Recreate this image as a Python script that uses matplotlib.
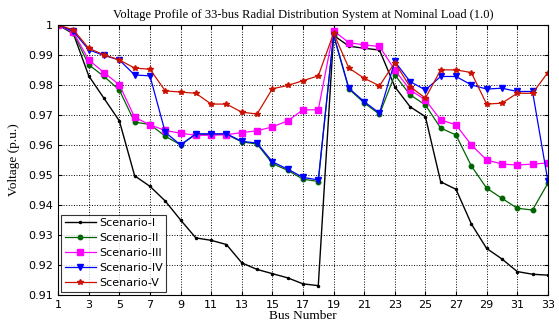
import matplotlib
matplotlib.use("Agg")
import matplotlib.pyplot as plt
import numpy as np

buses = list(range(1, 34))

scenario_1 = [1.0, 0.997, 0.983, 0.9755, 0.968, 0.9497, 0.9462, 0.9413, 0.935, 0.929,
              0.9282, 0.9268, 0.9207, 0.9185, 0.9171, 0.9157, 0.9137, 0.9131, 0.9965, 0.9929,
              0.9922, 0.9916, 0.9794, 0.9727, 0.9694, 0.9477, 0.9452, 0.9337, 0.9255, 0.9220,
              0.9178, 0.9169, 0.9166]
scenario_2 = [1.0, 0.9972, 0.9867, 0.9828, 0.9783, 0.9676, 0.9668, 0.9629, 0.9600, 0.9635,
              0.9635, 0.9635, 0.9610, 0.9603, 0.9538, 0.9515, 0.9486, 0.9478, 0.9965, 0.9786,
              0.9740, 0.9702, 0.9833, 0.9767, 0.9733, 0.9656, 0.9633, 0.9530, 0.9456, 0.9422,
              0.9389, 0.9383, 0.9472]
scenario_3 = [1.0, 0.9975, 0.9883, 0.9841, 0.9800, 0.9692, 0.9667, 0.9648, 0.9639, 0.9632,
              0.9632, 0.9634, 0.9641, 0.9647, 0.9660, 0.9680, 0.9717, 0.9717, 0.9980, 0.9941,
              0.9933, 0.9928, 0.9850, 0.9783, 0.9750, 0.9683, 0.9667, 0.9600, 0.9550, 0.9536,
              0.9533, 0.9536, 0.9540]
scenario_4 = [1.0, 0.9978, 0.9917, 0.9898, 0.9883, 0.9833, 0.9830, 0.9642, 0.9600, 0.9637,
              0.9637, 0.9637, 0.9612, 0.9606, 0.9544, 0.9519, 0.9492, 0.9483, 0.9967, 0.9789,
              0.9744, 0.9706, 0.9878, 0.9811, 0.9783, 0.9828, 0.9828, 0.9800, 0.9786, 0.9789,
              0.9778, 0.9778, 0.9481]
scenario_5 = [1.0, 0.9983, 0.9922, 0.9900, 0.9883, 0.9856, 0.9852, 0.9780, 0.9776, 0.9772,
              0.9736, 0.9736, 0.9709, 0.9703, 0.9787, 0.9798, 0.9814, 0.9830, 0.9972, 0.9856,
              0.9822, 0.9797, 0.9874, 0.9794, 0.9756, 0.9850, 0.9850, 0.9841, 0.9736, 0.9739,
              0.9772, 0.9772, 0.9841]

labels = ["Scenario-I", "Scenario-II", "Scenario-III", "Scenario-IV", "Scenario-V"]
xticks = list(range(1, 34, 2))
yticks = [0.91, 0.92, 0.93, 0.94, 0.95, 0.96, 0.97, 0.98, 0.99, 1.0]
ytick_labels = ["0.91", "0.92", "0.93", "0.94", "0.95", "0.96", "0.97", "0.98", "0.99", "1"]

fig = plt.figure(figsize=(5.59, 3.27), dpi=100)
ax = fig.add_axes([0.104, 0.098, 0.876, 0.826])

styles = [
    dict(color="black", marker=".", markersize=3, lw=1.0),
    dict(color="#006400", marker="o", markersize=3.2, lw=0.9),
    dict(color="#ff00ff", marker="s", markersize=4, lw=0.9),
    dict(color="#0000ff", marker="v", markersize=4.5, lw=0.9),
    dict(color="#cc1100", marker="*", markersize=4, lw=0.9),
]
series = [scenario_1, scenario_2, scenario_3, scenario_4, scenario_5]
for s, lab, st in zip(series, labels, styles):
    ax.plot(buses, s, label=lab, **st)

ax.set_xlim(1, 33)
ax.set_ylim(0.91, 1.0)
ax.set_xticks(xticks)
ax.set_yticks(yticks)
ax.set_yticklabels(ytick_labels)
ax.tick_params(direction="in", labelsize=8, length=3, top=True, right=True)
ax.grid(True, color="black", linestyle=":", linewidth=0.7)
for sp in ax.spines.values():
    sp.set_linewidth(0.8)

ax.set_title("Voltage Profile of 33-bus Radial Distribution System at Nominal Load (1.0)",
             fontsize=9, family="Liberation Serif", pad=5)
ax.set_xlabel("Bus Number", fontsize=9.5, family="Liberation Serif", labelpad=0)
ax.set_ylabel("Voltage (p.u.)", fontsize=9.5, family="Liberation Serif", labelpad=6)

leg = ax.legend(loc="lower left", fontsize=8, frameon=True, fancybox=False,
                edgecolor="black", borderaxespad=0.3, handlelength=2.8,
                labelspacing=0.45, borderpad=0.3, handletextpad=0.3)
leg.get_frame().set_linewidth(0.8)

fig.savefig("out.png", dpi=100)
